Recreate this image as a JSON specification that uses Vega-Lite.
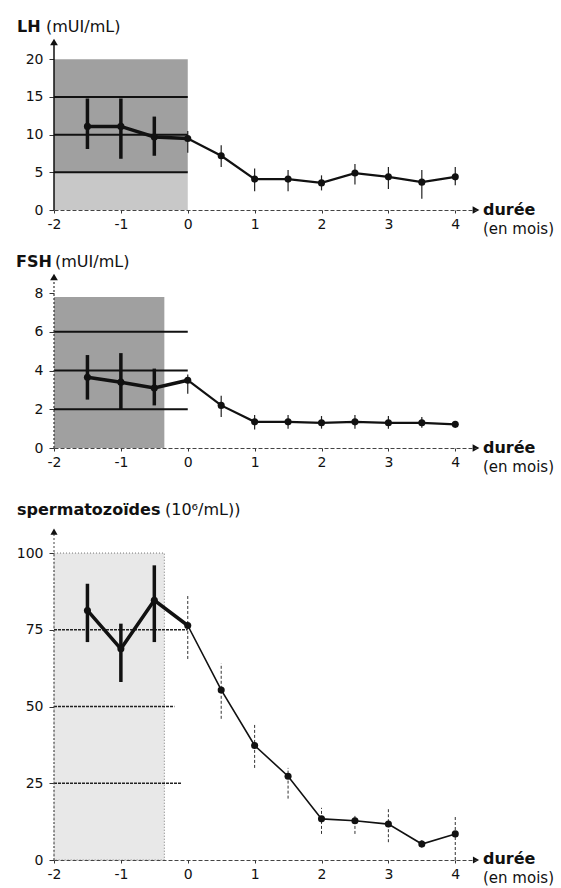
{
  "$schema": "https://vega.github.io/schema/vega-lite/v6.json",
  "padding": {"left": 16, "top": 19, "right": 0, "bottom": 0},
  "background": "white",
  "config": {
    "view": {"stroke": null},
    "font": "DejaVu Sans",
    "axis": {"labelFont": "DejaVu Sans", "labelFontSize": 14, "labelColor": "#111", "tickColor": "#333", "grid": false, "labelFlush": false, "labelOverlap": false}
  },
  "datasets": {
    "lh": [
      {"x": -1.5, "v": 11.1, "lo": 8.1, "hi": 14.8},
      {"x": -1, "v": 11.1, "lo": 6.8, "hi": 14.8},
      {"x": -0.5, "v": 9.7, "lo": 7.2, "hi": 12.4},
      {"x": 0, "v": 9.5, "lo": 7.6, "hi": 10.5},
      {"x": 0.5, "v": 7.2, "lo": 5.7, "hi": 8.6},
      {"x": 1, "v": 4.1, "lo": 2.5, "hi": 5.5},
      {"x": 1.5, "v": 4.1, "lo": 2.5, "hi": 5.3},
      {"x": 2, "v": 3.6, "lo": 2.6, "hi": 4.6},
      {"x": 2.5, "v": 4.9, "lo": 3.4, "hi": 6.1},
      {"x": 3, "v": 4.4, "lo": 2.8, "hi": 5.7},
      {"x": 3.5, "v": 3.7, "lo": 1.5, "hi": 5.3},
      {"x": 4, "v": 4.4, "lo": 3.3, "hi": 5.7}
    ],
    "fsh": [
      {"x": -1.5, "v": 3.65, "lo": 2.5, "hi": 4.8},
      {"x": -1, "v": 3.4, "lo": 2.0, "hi": 4.9},
      {"x": -0.5, "v": 3.1, "lo": 2.2, "hi": 4.1},
      {"x": 0, "v": 3.5, "lo": 2.8, "hi": 3.8},
      {"x": 0.5, "v": 2.2, "lo": 1.6, "hi": 2.7},
      {"x": 1, "v": 1.35, "lo": 0.95, "hi": 1.7},
      {"x": 1.5, "v": 1.35, "lo": 1.0, "hi": 1.7},
      {"x": 2, "v": 1.3, "lo": 1.0, "hi": 1.65},
      {"x": 2.5, "v": 1.35, "lo": 1.0, "hi": 1.7},
      {"x": 3, "v": 1.3, "lo": 1.0, "hi": 1.65},
      {"x": 3.5, "v": 1.3, "lo": 1.05, "hi": 1.6},
      {"x": 4, "v": 1.22, "lo": 1.1, "hi": 1.35}
    ],
    "sp": [
      {"x": -1.5, "v": 81.3, "lo": 71, "hi": 90},
      {"x": -1, "v": 68.8, "lo": 58, "hi": 77},
      {"x": -0.5, "v": 84.6, "lo": 71, "hi": 96},
      {"x": 0, "v": 76.4, "lo": 65.5, "hi": 86},
      {"x": 0.5, "v": 55.4, "lo": 46, "hi": 64},
      {"x": 1, "v": 37.3, "lo": 30, "hi": 44},
      {"x": 1.5, "v": 27.3, "lo": 20, "hi": 30},
      {"x": 2, "v": 13.4, "lo": 8.5, "hi": 17},
      {"x": 2.5, "v": 12.8, "lo": 8.5, "hi": 15},
      {"x": 3, "v": 11.7, "lo": 5.8, "hi": 16.6},
      {"x": 3.5, "v": 5.2, "lo": 4, "hi": 6.5},
      {"x": 4, "v": 8.5, "lo": 0, "hi": 14.5}
    ],
    "lh_shade": [
      {"x": -2, "x2": 0, "y": 5, "y2": 20, "tone": "dark"},
      {"x": -2, "x2": 0, "y": 0, "y2": 5, "tone": "light"}
    ],
    "fsh_shade": [
      {"x": -2, "x2": -0.35, "y": 0, "y2": 7.8, "tone": "dark"}
    ],
    "sp_shade": [
      {"x": -2, "x2": -0.35, "y": 0, "y2": 100, "tone": "pale"}
    ],
    "lh_grid": [
      {"y": 5, "x": -2, "x2": 0},
      {"y": 10, "x": -2, "x2": 0},
      {"y": 15, "x": -2, "x2": 0}
    ],
    "fsh_grid": [
      {"y": 2, "x": -2, "x2": 0},
      {"y": 4, "x": -2, "x2": 0},
      {"y": 6, "x": -2, "x2": 0}
    ],
    "sp_grid": [
      {"y": 25, "x": -2, "x2": -0.1},
      {"y": 50, "x": -2, "x2": -0.2},
      {"y": 75, "x": -2, "x2": 0}
    ]
  },
  "vconcat": [
    {
      "width": 422,
      "height": 168,
      "layer": [
        {
          "data": {"name": "lh_shade"},
          "mark": {"type": "rect"},
          "encoding": {
            "x": {"field": "x", "type": "quantitative", "scale": {"domain": [-2, 4.31], "nice": false, "zero": false},
                  "axis": {"values": [-2, -1, 0, 1, 2, 3, 4], "title": null, "labelExpr": "'' + datum.value", "tickSize": 3, "labelPadding": 4, "domainColor": "#444", "domainDash": [4, 2], "zindex": 1}},
            "x2": {"field": "x2"},
            "y": {"field": "y", "type": "quantitative", "scale": {"domain": [0, 22.3], "nice": false},
                  "axis": {"values": [0, 5, 10, 15, 20], "title": null, "domain": false, "tickSize": 5, "labelPadding": 6}},
            "y2": {"field": "y2"},
            "color": {"field": "tone", "type": "nominal", "scale": {"domain": ["dark", "light", "pale"], "range": ["#a0a0a0", "#c8c8c8", "#e8e8e8"]}, "legend": null}
          }
        },
        {
          "data": {"name": "lh_grid"},
          "mark": {"type": "rule", "color": "#111", "strokeWidth": 2},
          "encoding": {"x": {"field": "x", "type": "quantitative"}, "x2": {"field": "x2"}, "y": {"field": "y", "type": "quantitative"}}
        },
        {
          "data": {"values": [{}]},
          "mark": {"type": "rule", "color": "#111", "strokeWidth": 1.5},
          "encoding": {"x": {"datum": -2}, "y": {"datum": 0}, "y2": {"datum": 22.3}}
        },
        {
          "data": {"values": [{}]},
          "mark": {"type": "point", "shape": "triangle-up", "filled": true, "color": "#111", "size": 60, "opacity": 1},
          "encoding": {"x": {"datum": -2}, "y": {"datum": 22.3}}
        },
        {
          "data": {"values": [{}]},
          "mark": {"type": "point", "shape": "triangle-right", "filled": true, "color": "#111", "size": 60, "opacity": 1},
          "encoding": {"x": {"datum": 4.31}, "y": {"datum": 0}}
        },
        {
          "data": {"name": "lh"},
          "transform": [{"filter": "datum.x < 0"}],
          "mark": {"type": "rule", "color": "#111", "strokeWidth": 3.5},
          "encoding": {"x": {"field": "x", "type": "quantitative"}, "y": {"field": "lo", "type": "quantitative"}, "y2": {"field": "hi"}}
        },
        {
          "data": {"name": "lh"},
          "transform": [{"filter": "datum.x >= 0"}],
          "mark": {"type": "rule", "color": "#222", "strokeWidth": 1.2},
          "encoding": {"x": {"field": "x", "type": "quantitative"}, "y": {"field": "lo", "type": "quantitative"}, "y2": {"field": "hi"}}
        },
        {
          "data": {"name": "lh"},
          "transform": [{"filter": "datum.x <= 0"}],
          "mark": {"type": "line", "color": "#111", "strokeWidth": 3.5},
          "encoding": {"x": {"field": "x", "type": "quantitative"}, "y": {"field": "v", "type": "quantitative"}}
        },
        {
          "data": {"name": "lh"},
          "transform": [{"filter": "datum.x >= 0"}],
          "mark": {"type": "line", "color": "#111", "strokeWidth": 2.2},
          "encoding": {"x": {"field": "x", "type": "quantitative"}, "y": {"field": "v", "type": "quantitative"}}
        },
        {
          "data": {"name": "lh"},
          "mark": {"type": "point", "shape": "circle", "filled": true, "color": "#111", "size": 50, "opacity": 1},
          "encoding": {"x": {"field": "x", "type": "quantitative"}, "y": {"field": "v", "type": "quantitative"}}
        },
        {
          "data": {"values": [{}]},
          "mark": {"type": "text", "align": "left", "baseline": "alphabetic", "font": "DejaVu Sans", "fontWeight": "bold", "fontSize": 16, "dx": -37, "dy": -10, "color": "#111"},
          "encoding": {"x": {"datum": -2}, "y": {"datum": 22.3}, "text": {"value": "LH"}}
        },
        {
          "data": {"values": [{}]},
          "mark": {"type": "text", "align": "left", "baseline": "alphabetic", "font": "DejaVu Sans", "fontSize": 16, "dx": -8, "dy": -10, "color": "#111"},
          "encoding": {"x": {"datum": -2}, "y": {"datum": 22.3}, "text": {"value": "(mUI/mL)"}}
        },
        {
          "data": {"values": [{}]},
          "mark": {"type": "text", "align": "left", "baseline": "middle", "font": "DejaVu Sans", "fontWeight": "bold", "fontSize": 16, "dx": 7, "dy": 0, "color": "#111"},
          "encoding": {"x": {"datum": 4.31}, "y": {"datum": 0}, "text": {"value": "durée"}}
        },
        {
          "data": {"values": [{}]},
          "mark": {"type": "text", "align": "left", "baseline": "middle", "font": "DejaVu Sans", "fontSize": 15, "dx": 7, "dy": 19, "color": "#111"},
          "encoding": {"x": {"datum": 4.31}, "y": {"datum": 0}, "text": {"value": "(en mois)"}}
        }
      ]
    },
    {
      "width": 422,
      "height": 171,
      "layer": [
        {
          "data": {"name": "fsh_shade"},
          "mark": {"type": "rect"},
          "encoding": {
            "x": {"field": "x", "type": "quantitative", "scale": {"domain": [-2, 4.31], "nice": false, "zero": false},
                  "axis": {"values": [-2, -1, 0, 1, 2, 3, 4], "title": null, "labelExpr": "'' + datum.value", "tickSize": 3, "labelPadding": 4, "domainColor": "#444", "domainDash": [4, 2], "zindex": 1}},
            "x2": {"field": "x2"},
            "y": {"field": "y", "type": "quantitative", "scale": {"domain": [0, 8.83], "nice": false},
                  "axis": {"values": [0, 2, 4, 6, 8], "title": null, "domain": false, "tickSize": 5, "labelPadding": 6}},
            "y2": {"field": "y2"},
            "color": {"field": "tone", "type": "nominal", "scale": {"domain": ["dark", "light", "pale"], "range": ["#b0b0b0", "#c8c8c8", "#e8e8e8"]}, "legend": null}
          }
        },
        {
          "data": {"name": "fsh_grid"},
          "mark": {"type": "rule", "color": "#111", "strokeWidth": 2},
          "encoding": {"x": {"field": "x", "type": "quantitative"}, "x2": {"field": "x2"}, "y": {"field": "y", "type": "quantitative"}}
        },
        {
          "data": {"values": [{}]},
          "mark": {"type": "rule", "color": "#333", "strokeWidth": 1.2, "strokeDash": [2, 2]},
          "encoding": {"x": {"datum": -2}, "y": {"datum": 0}, "y2": {"datum": 8.83}}
        },
        {
          "data": {"values": [{}]},
          "mark": {"type": "point", "shape": "triangle-up", "filled": true, "color": "#111", "size": 60, "opacity": 1},
          "encoding": {"x": {"datum": -2}, "y": {"datum": 8.83}}
        },
        {
          "data": {"values": [{}]},
          "mark": {"type": "point", "shape": "triangle-right", "filled": true, "color": "#111", "size": 60, "opacity": 1},
          "encoding": {"x": {"datum": 4.31}, "y": {"datum": 0}}
        },
        {
          "data": {"name": "fsh"},
          "transform": [{"filter": "datum.x < 0"}],
          "mark": {"type": "rule", "color": "#111", "strokeWidth": 3.5},
          "encoding": {"x": {"field": "x", "type": "quantitative"}, "y": {"field": "lo", "type": "quantitative"}, "y2": {"field": "hi"}}
        },
        {
          "data": {"name": "fsh"},
          "transform": [{"filter": "datum.x >= 0"}],
          "mark": {"type": "rule", "color": "#222", "strokeWidth": 1.2},
          "encoding": {"x": {"field": "x", "type": "quantitative"}, "y": {"field": "lo", "type": "quantitative"}, "y2": {"field": "hi"}}
        },
        {
          "data": {"name": "fsh"},
          "transform": [{"filter": "datum.x <= 0"}],
          "mark": {"type": "line", "color": "#111", "strokeWidth": 3.5},
          "encoding": {"x": {"field": "x", "type": "quantitative"}, "y": {"field": "v", "type": "quantitative"}}
        },
        {
          "data": {"name": "fsh"},
          "transform": [{"filter": "datum.x >= 0"}],
          "mark": {"type": "line", "color": "#111", "strokeWidth": 2.2},
          "encoding": {"x": {"field": "x", "type": "quantitative"}, "y": {"field": "v", "type": "quantitative"}}
        },
        {
          "data": {"name": "fsh"},
          "mark": {"type": "point", "shape": "circle", "filled": true, "color": "#111", "size": 50, "opacity": 1},
          "encoding": {"x": {"field": "x", "type": "quantitative"}, "y": {"field": "v", "type": "quantitative"}}
        },
        {
          "data": {"values": [{}]},
          "mark": {"type": "text", "align": "left", "baseline": "alphabetic", "font": "DejaVu Sans", "fontWeight": "bold", "fontSize": 16, "dx": -38, "dy": -10, "color": "#111"},
          "encoding": {"x": {"datum": -2}, "y": {"datum": 8.83}, "text": {"value": "FSH"}}
        },
        {
          "data": {"values": [{}]},
          "mark": {"type": "text", "align": "left", "baseline": "alphabetic", "font": "DejaVu Sans", "fontSize": 16, "dx": 1, "dy": -10, "color": "#111"},
          "encoding": {"x": {"datum": -2}, "y": {"datum": 8.83}, "text": {"value": "(mUI/mL)"}}
        },
        {
          "data": {"values": [{}]},
          "mark": {"type": "text", "align": "left", "baseline": "middle", "font": "DejaVu Sans", "fontWeight": "bold", "fontSize": 16, "dx": 7, "dy": 0, "color": "#111"},
          "encoding": {"x": {"datum": 4.31}, "y": {"datum": 0}, "text": {"value": "durée"}}
        },
        {
          "data": {"values": [{}]},
          "mark": {"type": "text", "align": "left", "baseline": "middle", "font": "DejaVu Sans", "fontSize": 15, "dx": 7, "dy": 19, "color": "#111"},
          "encoding": {"x": {"datum": 4.31}, "y": {"datum": 0}, "text": {"value": "(en mois)"}}
        }
      ]
    },
    {
      "width": 422,
      "height": 345,
      "layer": [
        {
          "data": {"name": "sp_shade"},
          "mark": {"type": "rect", "stroke": "#777", "strokeWidth": 1, "strokeDash": [1, 2]},
          "encoding": {
            "x": {"field": "x", "type": "quantitative", "scale": {"domain": [-2, 4.31], "nice": false, "zero": false},
                  "axis": {"values": [-2, -1, 0, 1, 2, 3, 4], "title": null, "labelExpr": "'' + datum.value", "tickSize": 3, "labelPadding": 4, "domainColor": "#444", "domainDash": [4, 2], "zindex": 1}},
            "x2": {"field": "x2"},
            "y": {"field": "y", "type": "quantitative", "scale": {"domain": [0, 112.4], "nice": false},
                  "axis": {"values": [0, 25, 50, 75, 100], "title": null, "domain": false, "tickSize": 5, "labelPadding": 6}},
            "y2": {"field": "y2"},
            "color": {"field": "tone", "type": "nominal", "scale": {"domain": ["dark", "light", "pale"], "range": ["#9a9a9a", "#c8c8c8", "#ececec"]}, "legend": null}
          }
        },
        {
          "data": {"name": "sp_grid"},
          "mark": {"type": "rule", "color": "#222", "strokeWidth": 1.5, "strokeDash": [3, 1]},
          "encoding": {"x": {"field": "x", "type": "quantitative"}, "x2": {"field": "x2"}, "y": {"field": "y", "type": "quantitative"}}
        },
        {
          "data": {"values": [{}]},
          "mark": {"type": "rule", "color": "#444", "strokeWidth": 1, "strokeDash": [2, 2]},
          "encoding": {"x": {"datum": -2}, "y": {"datum": 0}, "y2": {"datum": 107}}
        },
        {
          "data": {"values": [{}]},
          "mark": {"type": "point", "shape": "triangle-up", "filled": true, "color": "#111", "size": 50, "opacity": 1},
          "encoding": {"x": {"datum": -2}, "y": {"datum": 107}}
        },
        {
          "data": {"values": [{}]},
          "mark": {"type": "point", "shape": "triangle-right", "filled": true, "color": "#111", "size": 50, "opacity": 1},
          "encoding": {"x": {"datum": 4.31}, "y": {"datum": 0}}
        },
        {
          "data": {"name": "sp"},
          "transform": [{"filter": "datum.x < 0"}],
          "mark": {"type": "rule", "color": "#111", "strokeWidth": 3.5},
          "encoding": {"x": {"field": "x", "type": "quantitative"}, "y": {"field": "lo", "type": "quantitative"}, "y2": {"field": "hi"}}
        },
        {
          "data": {"name": "sp"},
          "transform": [{"filter": "datum.x >= 0"}],
          "mark": {"type": "rule", "color": "#333", "strokeWidth": 1, "strokeDash": [3, 2]},
          "encoding": {"x": {"field": "x", "type": "quantitative"}, "y": {"field": "lo", "type": "quantitative"}, "y2": {"field": "hi"}}
        },
        {
          "data": {"name": "sp"},
          "transform": [{"filter": "datum.x <= 0"}],
          "mark": {"type": "line", "color": "#111", "strokeWidth": 3.5},
          "encoding": {"x": {"field": "x", "type": "quantitative"}, "y": {"field": "v", "type": "quantitative"}}
        },
        {
          "data": {"name": "sp"},
          "transform": [{"filter": "datum.x >= 0"}],
          "mark": {"type": "line", "color": "#111", "strokeWidth": 1.6},
          "encoding": {"x": {"field": "x", "type": "quantitative"}, "y": {"field": "v", "type": "quantitative"}}
        },
        {
          "data": {"name": "sp"},
          "mark": {"type": "point", "shape": "circle", "filled": true, "color": "#111", "size": 50, "opacity": 1},
          "encoding": {"x": {"field": "x", "type": "quantitative"}, "y": {"field": "v", "type": "quantitative"}}
        },
        {
          "data": {"values": [{}]},
          "mark": {"type": "text", "align": "left", "baseline": "alphabetic", "font": "DejaVu Sans", "fontWeight": "bold", "fontSize": 16, "dx": -37, "dy": -17, "color": "#111"},
          "encoding": {"x": {"datum": -2}, "y": {"datum": 107}, "text": {"value": "spermatozoïdes"}}
        },
        {
          "data": {"values": [{}]},
          "mark": {"type": "text", "align": "left", "baseline": "alphabetic", "font": "DejaVu Sans", "fontSize": 16, "dx": 111, "dy": -17, "color": "#111"},
          "encoding": {"x": {"datum": -2}, "y": {"datum": 107}, "text": {"value": "(10⁶/mL))"}}
        },
        {
          "data": {"values": [{}]},
          "mark": {"type": "text", "align": "left", "baseline": "middle", "font": "DejaVu Sans", "fontWeight": "bold", "fontSize": 16, "dx": 7, "dy": -1, "color": "#111"},
          "encoding": {"x": {"datum": 4.31}, "y": {"datum": 0}, "text": {"value": "durée"}}
        },
        {
          "data": {"values": [{}]},
          "mark": {"type": "text", "align": "left", "baseline": "middle", "font": "DejaVu Sans", "fontSize": 15, "dx": 7, "dy": 18, "color": "#111"},
          "encoding": {"x": {"datum": 4.31}, "y": {"datum": 0}, "text": {"value": "(en mois)"}}
        }
      ]
    }
  ],
  "spacing": 67,
  "bounds": "flush"
}
